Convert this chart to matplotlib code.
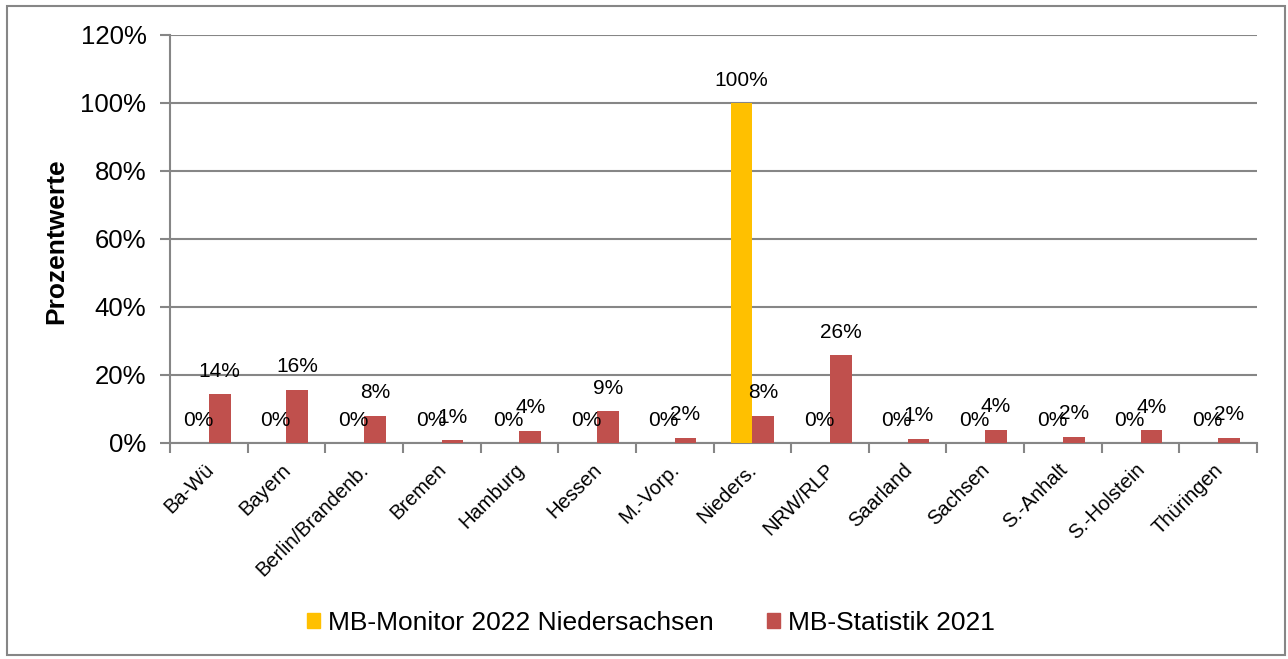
import matplotlib
matplotlib.use("Agg")
import matplotlib.pyplot as plt
import matplotlib.patches as mpatches
from matplotlib.ticker import PercentFormatter
import numpy as np

plt.rcParams['font.family'] = ['Liberation Sans', 'DejaVu Sans']

categories = ["Ba-Wü", "Bayern", "Berlin/Brandenb.", "Bremen", "Hamburg", "Hessen",
              "M.-Vorp.", "Nieders.", "NRW/RLP", "Saarland", "Sachsen", "S.-Anhalt",
              "S.-Holstein", "Thüringen"]
monitor_2022 = [0, 0, 0, 0, 0, 0, 0, 100, 0, 0, 0, 0, 0, 0]
statistik_2021 = [14.4, 15.6, 8.0, 0.8, 3.6, 9.3, 1.6, 8.0, 25.8, 1.2, 3.9, 1.8, 3.8, 1.6]
series_names = ["MB-Monitor 2022 Niedersachsen", "MB-Statistik 2021"]
yticks = [0, 20, 40, 60, 80, 100, 120]

W, H = 1288, 659
fig = plt.figure(figsize=(W / 100, H / 100), dpi=100)
ax = fig.add_axes([170 / W, (H - 443) / H, (1257 - 170) / W, (443 - 35) / H])

gold = "#FFC000"
red = "#C0504D"
grid_c = "#868686"

x = np.arange(len(categories))
bw = 0.28
b1 = ax.bar(x - bw / 2, monitor_2022, bw, color=gold, label=series_names[0], zorder=3)
b2 = ax.bar(x + bw / 2, statistik_2021, bw, color=red, label=series_names[1], zorder=3)

for bars, vals in ((b1, monitor_2022), (b2, statistik_2021)):
    for rect, v in zip(bars, vals):
        ax.annotate(f"{v:.0f}%", (rect.get_x() + rect.get_width() / 2, v),
                    xytext=(0, 23), textcoords="offset pixels",
                    ha="center", va="center", fontsize=15, color="black", zorder=4)

ax.set_xlim(-0.5, len(categories) - 0.5)
ax.set_ylim(0, 120)
ax.set_yticks(yticks)
ax.yaxis.set_major_formatter(PercentFormatter(decimals=0))
ax.tick_params(axis='y', labelsize=18.5, length=7, width=1.5, color=grid_c, pad=10)
ax.grid(axis='y', color=grid_c, lw=1.5, zorder=0)

ax.set_xticks(np.arange(-0.5, len(categories), 1.0))
ax.set_xticklabels([])
ax.tick_params(axis='x', length=7, width=1.5, color=grid_c)
for i, c in enumerate(categories):
    ax.annotate(c, (i, 0), xytext=(-5, -17), textcoords="offset pixels",
                ha="right", va="top", rotation=45, rotation_mode="anchor",
                fontsize=14.5, annotation_clip=False)

for s in ("top", "right"):
    ax.spines[s].set_visible(False)
for s in ("left", "bottom"):
    ax.spines[s].set_color(grid_c)
    ax.spines[s].set_linewidth(1.5)

fig.text(56 / W, 1 - 241 / H, "Prozentwerte", rotation=90, ha="center", va="center",
         fontsize=19, fontweight="bold")

handles = [mpatches.Patch(color=gold), mpatches.Patch(color=red)]
fig.legend(handles, series_names, loc="center", bbox_to_anchor=(651 / W, 1 - 623 / H),
           ncol=2, frameon=False, fontsize=19, handlelength=0.5, handleheight=0.5,
           handletextpad=0.3, columnspacing=2.0)

fig.patches.append(mpatches.Rectangle((7 / W, 4 / H), (1285 - 7) / W, (653 - 4) / H,
                                      transform=fig.transFigure, fill=False,
                                      edgecolor=grid_c, lw=1.5))

fig.savefig("out.png", dpi=100)
